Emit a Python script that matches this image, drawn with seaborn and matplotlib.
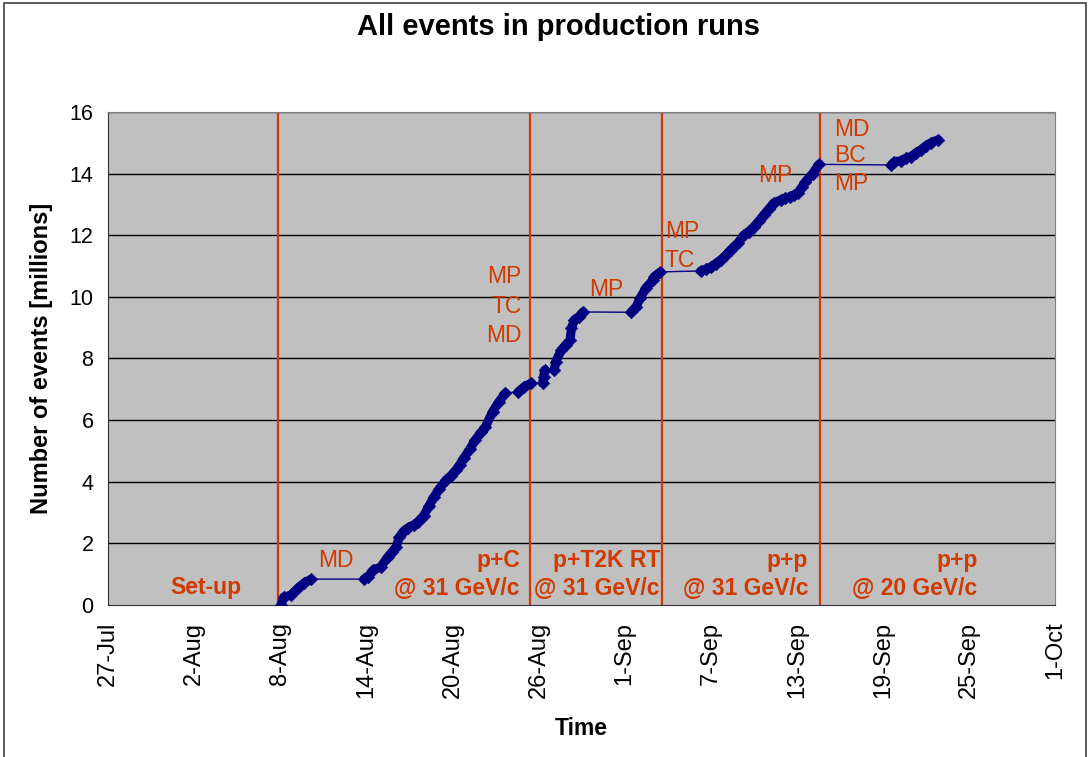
import pandas as pd
import matplotlib
matplotlib.use('Agg')
import matplotlib.pyplot as plt
from matplotlib.patches import Rectangle
import seaborn as sns

# Excel-like look
sns.set_style('white')
plt.rcParams['font.family'] = ['Liberation Sans', 'DejaVu Sans']
plt.rcParams['text.color'] = 'black'
plt.rcParams['axes.labelcolor'] = 'black'
plt.rcParams['xtick.color'] = 'black'
plt.rcParams['ytick.color'] = 'black'

START = pd.Timestamp('2007-07-27')

# days since 27-Jul
days = [12.06, 12.26, 12.75, 13.24, 13.66, 14.15,
        17.84, 18.1, 18.5, 19.0, 19.5, 19.8, 20.07, 20.3, 20.6, 20.9, 21.3, 21.6,
        22.0, 22.35, 22.7, 23.1, 23.55, 23.9, 24.25, 24.5, 24.8, 25.2, 25.6, 26.0,
        26.3, 26.8, 27.25, 27.7,
        28.6, 29.0, 29.5,
        30.3, 30.35, 30.45,
        31.1, 31.2, 31.6, 31.9, 32.2, 32.3, 32.5, 32.8, 33.1,
        36.45, 36.8, 37.1, 37.5, 38.0, 38.05, 38.5,
        41.3, 41.65, 42.0, 42.35, 42.7, 43.05, 43.4, 43.9, 44.3, 44.65, 45.0, 45.35,
        45.7, 46.05, 46.4, 46.9, 47.2, 47.5, 47.8, 48.1, 48.35, 48.6, 49.1, 49.55,
        54.6, 54.8, 55.3, 55.6, 55.95, 56.3, 56.65, 57.0, 57.35, 57.85]
# cumulative number of events [millions]
events = [0.0, 0.26, 0.32, 0.55, 0.71, 0.84,
          0.84, 0.91, 1.14, 1.23, 1.56, 1.72, 1.88, 2.2, 2.4, 2.5, 2.6, 2.7,
          2.9, 3.2, 3.5, 3.78, 4.05, 4.2, 4.38, 4.55, 4.77, 5.05, 5.36, 5.6,
          5.78, 6.27, 6.6, 6.88,
          6.92, 7.08, 7.2,
          7.2, 7.4, 7.63,
          7.63, 7.9, 8.28, 8.44, 8.6, 8.99, 9.25, 9.35, 9.51,
          9.5, 9.68, 9.97, 10.3, 10.55, 10.65, 10.81,
          10.84, 10.9, 10.97, 11.08, 11.2, 11.35, 11.53, 11.75, 12.0, 12.12, 12.27, 12.45,
          12.66, 12.85, 13.05, 13.15, 13.2, 13.25, 13.3, 13.38, 13.55, 13.73, 14.0, 14.3,
          14.28, 14.38, 14.42, 14.5, 14.55, 14.67, 14.77, 14.9, 15.0, 15.1]

# start of each beam period (days since 27-Jul)
period_starts = [11.83, 29.44, 38.62, 49.62]

tick_days = [0, 6, 12, 18, 24, 30, 36, 42, 48, 54, 60, 66]
tick_labels = ['27-Jul', '2-Aug', '8-Aug', '14-Aug', '20-Aug', '26-Aug',
               '1-Sep', '7-Sep', '13-Sep', '19-Sep', '25-Sep', '1-Oct']

NAVY = '#000080'
RED = '#D03A00'


def to_date(d):
    return START + pd.to_timedelta(d, unit='D')


df = pd.DataFrame({'day': days, 'events': events})
df['date'] = to_date(df['day'])
# split into data-taking stretches (gaps are drawn as a thin line only)
df['run'] = (df['day'].diff() > 0.55).cumsum()

fig = plt.figure(figsize=(10.89, 7.57), dpi=100)
ax = fig.add_axes([0.0992, 0.2008, 0.8696, 0.6513])
ax.set_facecolor('#C0C0C0')

# horizontal grid
for yv in range(2, 17, 2):
    ax.axhline(yv, color='black', lw=1, zorder=1)

# beam period boundaries
for d in period_starts:
    ax.axvline(to_date(d), color=RED, lw=1.6, zorder=2)

# thin connecting line + thick band for runs + diamond markers
sns.lineplot(data=df, x='date', y='events', color=NAVY, lw=1, ax=ax, zorder=3,
             estimator=None, sort=False)
sns.lineplot(data=df, x='date', y='events', units='run', estimator=None, sort=False,
             color=NAVY, lw=6.5, ax=ax, zorder=4)
sns.scatterplot(data=df, x='date', y='events', marker='D', s=40, color=NAVY,
                edgecolor=NAVY, ax=ax, zorder=5)

ax.set_xlim(to_date(0), to_date(66))
ax.set_ylim(0, 16)
ax.set_yticks(range(0, 17, 2))
ax.set_xticks([to_date(d) for d in tick_days])
ax.set_xticklabels(tick_labels, rotation=90)
ax.tick_params(axis='both', length=7, width=1, color='#333333', direction='out')
ax.tick_params(axis='y', labelsize=15.5)
ax.tick_params(axis='x', labelsize=17, pad=5)

for side in ['top', 'right']:
    ax.spines[side].set_color('#808080')
for side in ['left', 'bottom']:
    ax.spines[side].set_color('#333333')

ax.set_xlabel('Time', fontsize=16.5, fontweight='bold', labelpad=14)
ax.set_ylabel('Number of events [millions]', fontsize=17, fontweight='bold', labelpad=12)
fig.suptitle('All events in production runs', fontsize=21, fontweight='bold',
             x=0.513, y=0.964, va='center')

# period / activity labels
labels = [
    ('Set-up', 6.8, 0.58, 'center', 'bold'),
    ('MD', 15.9, 1.46, 'center', 'normal'),
    ('p+C', 28.7, 1.46, 'right', 'bold'),
    ('@ 31 GeV/c', 28.7, 0.55, 'right', 'bold'),
    ('p+T2K RT', 38.5, 1.46, 'right', 'bold'),
    ('@ 31 GeV/c', 38.4, 0.55, 'right', 'bold'),
    ('p+p', 48.8, 1.46, 'right', 'bold'),
    ('@ 31 GeV/c', 48.8, 0.55, 'right', 'bold'),
    ('p+p', 60.6, 1.46, 'right', 'bold'),
    ('@ 20 GeV/c', 60.6, 0.55, 'right', 'bold'),
    ('MP', 28.8, 10.65, 'right', 'normal'),
    ('TC', 28.8, 9.68, 'right', 'normal'),
    ('MD', 28.8, 8.73, 'right', 'normal'),
    ('MP', 34.7, 10.23, 'center', 'normal'),
    ('MP', 38.8, 12.11, 'left', 'normal'),
    ('TC', 38.8, 11.17, 'left', 'normal'),
    ('MP', 46.5, 13.93, 'center', 'normal'),
    ('MD', 50.6, 15.42, 'left', 'normal'),
    ('BC', 50.6, 14.58, 'left', 'normal'),
    ('MP', 50.6, 13.67, 'left', 'normal'),
]
for txt, d, v, ha, w in labels:
    ax.text(to_date(d), v, txt, color=RED, fontsize=16.5, fontweight=w,
            ha=ha, va='center', zorder=6)

# outer chart border
fig.patches.append(Rectangle((0.004, -0.01), 0.993, 1.006, transform=fig.transFigure,
                             fill=False, edgecolor='#404040', lw=1.2))

fig.savefig('out.png', dpi=100)
